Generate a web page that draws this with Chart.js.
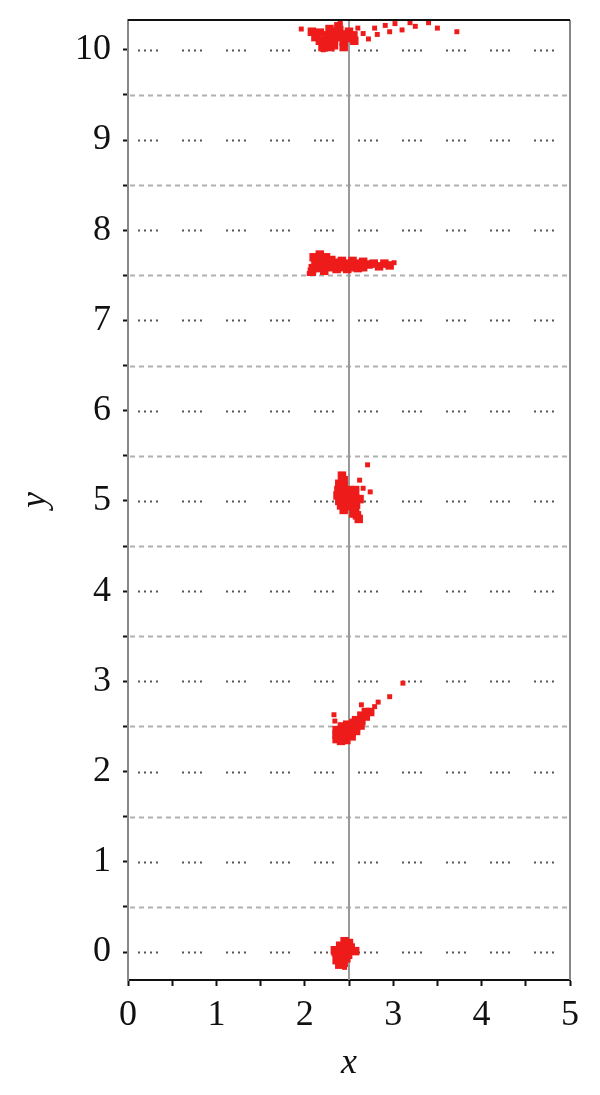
<!DOCTYPE html>
<html>
<head>
<meta charset="utf-8">
<script src="https://cdn.jsdelivr.net/npm/chart.js@4.4.1/dist/chart.umd.min.js"></script>
<style>
  html, body { margin: 0; padding: 0; background: #fff; }
  #wrap { width: 600px; height: 1095px; }
</style>
</head>
<body>
<div id="wrap"><canvas id="scatterChart"></canvas></div>
<script>
// axis ranges and ticks
const xTicks = [0, 0.5, 1, 1.5, 2, 2.5, 3, 3.5, 4, 4.5, 5];
const yTicks = [0, 0.5, 1, 1.5, 2, 2.5, 3, 3.5, 4, 4.5, 5, 5.5, 6, 6.5, 7, 7.5, 8, 8.5, 9, 9.5, 10];
const xRange = [0, 5];
const yRange = [-0.31, 10.33];
const refX = 2.5;

// dense parts of the red clusters
const coreX = [
  2.45, 2.50, 2.40, 2.48, 2.34, 2.40, 2.46, 2.52, 2.57, 2.37, 2.43, 2.49, 2.36, 2.42, 2.47, 2.39, 2.44, 2.35, 2.52,
  2.36, 2.36, 2.36, 2.42, 2.42, 2.42, 2.41, 2.48, 2.48, 2.48, 2.47, 2.53, 2.53, 2.53, 2.58, 2.58, 2.58, 2.64, 2.64, 2.63, 2.69, 2.69, 2.74, 2.55,
  2.42, 2.44, 2.39, 2.44, 2.38, 2.43, 2.37, 2.42, 2.47, 2.39, 2.44, 2.41, 2.46, 2.44, 2.53, 2.57, 2.53, 2.58, 2.53, 2.57, 2.55, 2.59, 2.61, 2.51, 2.57, 2.62,
  2.10, 2.12, 2.09, 2.17, 2.18, 2.16, 2.24, 2.24, 2.22, 2.30, 2.30, 2.36, 2.36, 2.42, 2.42, 2.48, 2.48, 2.54, 2.54, 2.60, 2.60, 2.66, 2.66, 2.72, 2.78, 2.84, 2.90, 2.96, 2.08,
  2.08, 2.12, 2.17, 2.17, 2.22, 2.26, 2.26, 2.29, 2.33, 2.33, 2.33, 2.39, 2.39, 2.44, 2.44, 2.44, 2.50, 2.50, 2.55, 2.56, 2.20, 2.28, 2.38
];
const coreY = [
  0.12, 0.10, 0.07, 0.06, 0.02, 0.02, 0.02, 0.02, 0.01, -0.03, -0.03, -0.03, -0.09, -0.09, -0.07, -0.14, -0.12, 0.00, 0.05,
  2.46, 2.41, 2.36, 2.50, 2.44, 2.38, 2.34, 2.52, 2.46, 2.40, 2.35, 2.50, 2.44, 2.39, 2.57, 2.50, 2.45, 2.62, 2.56, 2.51, 2.66, 2.61, 2.66, 2.54,
  5.28, 5.23, 5.19, 5.17, 5.12, 5.12, 5.06, 5.06, 5.06, 5.00, 5.00, 4.95, 4.95, 4.90, 5.08, 5.03, 5.00, 4.96, 4.94, 4.90, 4.86, 4.84, 4.80, 5.12, 5.12, 5.02,
  7.70, 7.64, 7.58, 7.73, 7.66, 7.58, 7.70, 7.62, 7.55, 7.67, 7.59, 7.64, 7.57, 7.66, 7.59, 7.63, 7.57, 7.66, 7.59, 7.63, 7.58, 7.65, 7.59, 7.62, 7.63, 7.60, 7.63, 7.61, 7.54,
  10.20, 10.14, 10.19, 10.10, 10.05, 10.16, 10.09, 10.03, 10.20, 10.12, 10.05, 10.22, 10.14, 10.17, 10.09, 10.03, 10.20, 10.13, 10.16, 10.10, 10.03, 10.23, 10.26
];

// isolated points round the clusters
const strayX = [2.33, 2.34, 2.64, 2.79, 2.83, 2.96, 3.11, 2.62, 2.71, 2.66, 2.74, 2.48, 3.01, 2.05, 1.96, 2.60, 2.66, 2.72, 2.79, 2.82, 2.91, 2.96, 3.02, 3.10, 3.19, 3.25, 3.40, 3.50, 3.72, 2.40, 2.21, 2.45];
const strayY = [2.63, 2.56, 2.74, 2.72, 2.77, 2.83, 2.98, 5.23, 5.40, 5.14, 5.10, 4.98, 7.64, 7.52, 10.23, 10.24, 10.18, 10.12, 10.24, 10.17, 10.27, 10.20, 10.29, 10.22, 10.30, 10.26, 10.30, 10.24, 10.20, 10.30, 10.00, -0.17];

const toPts = (xs, ys) => xs.map((x, i) => ({ x: x, y: ys[i] }));

const serif = "'Liberation Serif', 'DejaVu Serif', serif";

// horizontal grid (dotted at integers, dashed at halves), frame and reference line
const gridPlugin = {
  id: 'gridLines',
  beforeDatasetsDraw(chart) {
    const { ctx, chartArea: a, scales } = chart;
    const y = scales.y, x = scales.x;
    ctx.save();
    yTicks.forEach(v => {
      const py = Math.round(y.getPixelForValue(v)) + 0.5;
      ctx.beginPath();
      if (v % 1 === 0) {
        ctx.strokeStyle = '#555';
        ctx.lineWidth = 2;
        ctx.setLineDash([2, 4, 2, 4, 2, 4, 2, 24]);
        ctx.lineDashOffset = -8;
      } else {
        ctx.strokeStyle = '#b0b0b0';
        ctx.lineWidth = 2;
        ctx.setLineDash([5, 4]);
        ctx.lineDashOffset = 0;
      }
      ctx.moveTo(a.left + 2, py);
      ctx.lineTo(a.right - 2, py);
      ctx.stroke();
    });
    ctx.setLineDash([]);
    const px = x.getPixelForValue(refX);
    ctx.strokeStyle = '#999';
    ctx.lineWidth = 2;
    ctx.beginPath();
    ctx.moveTo(px, a.top);
    ctx.lineTo(px, a.bottom);
    ctx.stroke();
    ctx.restore();
  },
  afterDatasetsDraw(chart) {
    const { ctx, chartArea: a } = chart;
    ctx.save();
    ctx.lineWidth = 2;
    ctx.strokeStyle = '#888';
    ctx.beginPath();
    ctx.moveTo(a.right, a.top);
    ctx.lineTo(a.right, a.bottom);
    ctx.stroke();
    ctx.strokeStyle = '#111';
    ctx.beginPath();
    ctx.moveTo(a.left, a.top);
    ctx.lineTo(a.right, a.top);
    ctx.stroke();
    ctx.restore();
  }
};

window.addEventListener('DOMContentLoaded', () => {
  const ctx = document.getElementById('scatterChart');
  new Chart(ctx, {
    type: 'scatter',
    data: {
      datasets: [{
        data: toPts(coreX, coreY),
        backgroundColor: '#ee1b1b',
        borderWidth: 0,
        pointStyle: 'rect',
        pointRadius: 6
      }, {
        data: toPts(strayX, strayY),
        backgroundColor: '#ee1b1b',
        borderWidth: 0,
        pointStyle: 'rect',
        pointRadius: 3.5
      }]
    },
    plugins: [gridPlugin],
    options: {
      responsive: true,
      maintainAspectRatio: false,
      animation: false,
      layout: { padding: { top: 20, right: 30, left: 0, bottom: 0 } },
      plugins: { legend: { display: false }, tooltip: { enabled: false } },
      scales: {
        x: {
          type: 'linear',
          min: xRange[0],
          max: xRange[1],
          afterBuildTicks: s => { s.ticks = xTicks.map(v => ({ value: v })); },
          afterFit: s => { s.height = 115; s.paddingLeft = 0; s.paddingRight = 0; },
          ticks: {
            color: '#111',
            font: { family: serif, size: 36 },
            padding: 8,
            maxRotation: 0,
            callback: v => (v % 1 === 0 ? String(v) : '')
          },
          grid: { drawOnChartArea: false, color: '#111', tickLength: 6, tickWidth: 2 },
          border: { color: '#111', width: 2 },
          title: {
            display: true,
            text: 'x',
            color: '#111',
            font: { family: serif, size: 36, style: 'italic' },
            padding: { top: 0, bottom: 10 }
          }
        },
        y: {
          type: 'linear',
          min: yRange[0],
          max: yRange[1],
          afterBuildTicks: s => { s.ticks = yTicks.map(v => ({ value: v })); },
          afterFit: s => { s.width = 128; s.paddingTop = 0; s.paddingBottom = 0; },
          ticks: {
            color: '#111',
            font: { family: serif, size: 36 },
            padding: 12,
            callback: v => (v % 1 === 0 ? String(v) : '')
          },
          grid: { drawOnChartArea: false, color: '#111', tickLength: 5, tickWidth: 2 },
          border: { color: '#888', width: 2 },
          title: {
            display: true,
            text: 'y',
            color: '#111',
            font: { family: serif, size: 36, style: 'italic' },
            padding: { top: 14, bottom: 0 }
          }
        }
      }
    }
  });
});
</script>
</body>
</html>
